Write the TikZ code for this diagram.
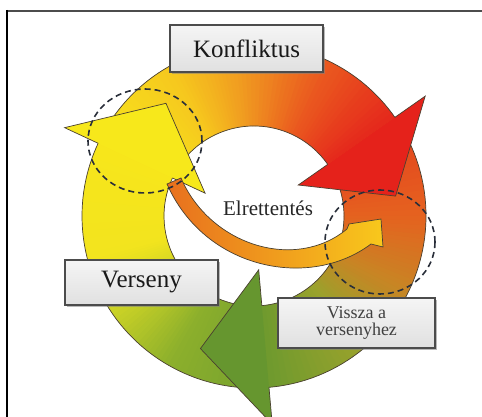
\documentclass[tikz,border=0pt]{standalone}
\usepackage{fontspec}
\setmainfont{Liberation Serif}
\usetikzlibrary{shadows}
\definecolor{cGa}{HTML}{74A02E}
\definecolor{cGb}{HTML}{8DB02C}
\definecolor{cYG}{HTML}{C9D126}
\definecolor{cYa}{HTML}{F2E41E}
\definecolor{cYb}{HTML}{F7E61B}
\definecolor{cYO}{HTML}{F6C81E}
\definecolor{cOa}{HTML}{F09A20}
\definecolor{cOR}{HTML}{EA5A1F}
\definecolor{cRa}{HTML}{E5281C}
\definecolor{cRb}{HTML}{E4401E}
\definecolor{cOb}{HTML}{E5621F}
\definecolor{cBr}{HTML}{C98424}
\definecolor{cOl}{HTML}{9AA22C}
\definecolor{cGc}{HTML}{6E9A2E}
\definecolor{hY}{HTML}{F7E81B}
\definecolor{hR}{HTML}{E5221B}
\definecolor{hG}{HTML}{66962F}
\definecolor{outl}{HTML}{4A4030}
\definecolor{dashc}{HTML}{2A2F3A}
\definecolor{iorange}{HTML}{E8701E}
\definecolor{iyellow}{HTML}{F8C81C}
\def\rin{90}
\def\rout{172}
\def\rfi{54}
\def\rfo{209}
\def\rtip{143}
\newcommand\gradseg[4]{%
  \foreach \gi in {0,...,15}{%
    \pgfmathsetmacro\gsA{#1+(#2-(#1))*\gi/16}%
    \pgfmathsetmacro\gsB{#1+(#2-(#1))*(\gi+1.4)/16}%
    \pgfmathtruncatemacro\gsP{100*(\gi+0.5)/16}%
    \colorlet{gtmp}{#4!\gsP!#3}%
    \fill[gtmp] (\gsA:\rin) arc[start angle=\gsA,end angle=\gsB,radius=\rin]
      -- (\gsB:\rout) arc[start angle=\gsB,end angle=\gsA,radius=\rout] -- cycle;
  }}
\newcommand\shaftlines[2]{%
  \draw[arrline] (#1:\rout) arc[start angle=#1,end angle=#2,radius=\rout];
  \draw[arrline] (#1:\rin) arc[start angle=#1,end angle=#2,radius=\rin];}
\newcommand\headshape[3]{%
  \fill[#3] (#1:\rout) -- (#1:\rfo) -- (#2:\rtip) -- (#1:\rfi) -- (#1:\rin) -- cycle;
  \draw[arrline] (#1:\rout) -- (#1:\rfo) -- (#2:\rtip) -- (#1:\rfi) -- (#1:\rin);}
\tikzset{
  arrline/.style={draw=outl, line width=0.7pt, line join=miter},
  dashring/.style={draw=dashc, line width=1.6pt, dash pattern=on 6pt off 4pt},
  labelbox/.style={draw=black!70, line width=1.2pt, top color=white!96!black, bottom color=black!12,
    inner sep=0pt, font=\fontsize{25}{27}\selectfont, text=black!90,
    drop shadow={shadow xshift=2pt, shadow yshift=-2pt, opacity=0.55}},
}
\begin{document}
\begin{tikzpicture}[x=1pt,y=1pt]
\useasboundingbox (0,0) rectangle (482,417);
% frame
\draw[black!70, line width=2pt] (7,406) -- (482,406);
\draw[black, line width=1.5pt] (7,407) -- (7,0);
\begin{scope}[shift={(254,201)}]
  % shafts
  \gradseg{275}{240}{cGa}{cGb}
  \gradseg{240}{215}{cGb}{cYG}
  \gradseg{215}{195}{cYG}{cYa}
  \gradseg{195}{155}{cYa}{cYb}
  \gradseg{155}{120}{cYb}{cYO}
  \gradseg{120}{95}{cYO}{cOa}
  \gradseg{95}{65}{cOa}{cOR}
  \gradseg{65}{35}{cOR}{cRa}
  \gradseg{35}{0}{cRb}{cOb}
  \gradseg{0}{-25}{cOb}{cBr}
  \gradseg{-25}{-50}{cBr}{cOl}
  \gradseg{-50}{-85}{cOl}{cGc}
  \shaftlines{275}{155}
  \shaftlines{155}{35}
  \shaftlines{35}{-85}
  % heads
  \headshape{155}{128}{hY}
  \headshape{35}{8}{hR}
  \headshape{-85}{-112}{hG}
\end{scope}
% inner arrow (Elrettentes)
\shade[left color=iorange, right color=iyellow, draw=outl, line width=0.7pt]
  (181,239) .. controls (210,172) and (295,145) .. (347,188)
  -- (349,193) -- (381,198) -- (383,170) -- (371,173)
  .. controls (310,127) and (205,147) .. (167,233) -- cycle;
% dashed circles
\draw[dashring] (145,276) ellipse[x radius=57, y radius=52];
\draw[dashring] (380,175) ellipse[x radius=55, y radius=52];
% boxes
\node[labelbox, minimum width=153pt, minimum height=47pt] (konf) at (246.5,368.5) {Konfliktus};
\node[labelbox, minimum width=153pt, minimum height=45pt] (vers) at (141.5,134.5) {Verseny};
\node[labelbox, minimum width=157pt, minimum height=50pt, align=center,
  font=\fontsize{18}{17}\selectfont, text=black!75] (vissza) at (356.5,94) {Vissza a\\versenyhez};
\node[font=\fontsize{21}{22}\selectfont, text=black!85] (elr) at (268,209) {Elrettentés};
\end{tikzpicture}
\end{document}
